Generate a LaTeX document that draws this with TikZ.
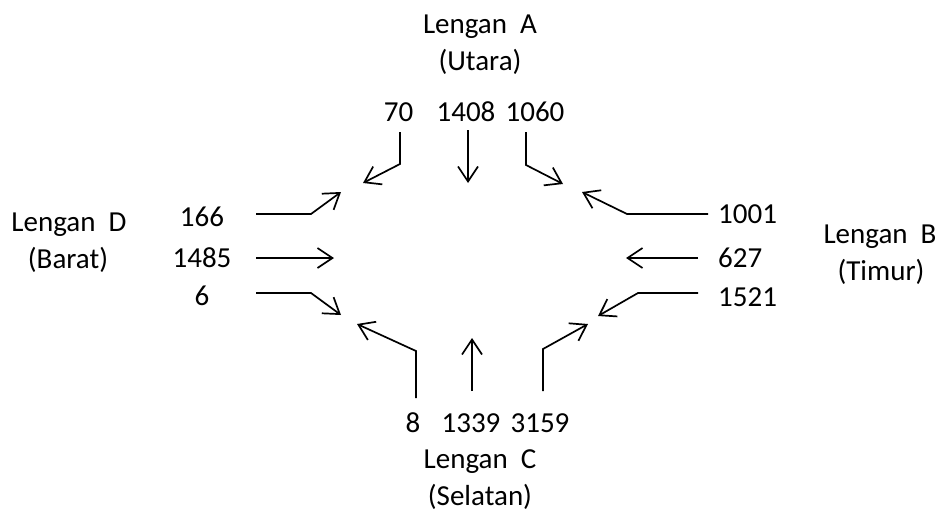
\documentclass[tikz,border=0pt]{standalone}
\usepackage{fontspec}
\setmainfont{Carlito}
\usetikzlibrary{arrows.meta}
\begin{document}
\begin{tikzpicture}[x=1pt,y=-1pt,
  flow/.style={line width=1.7pt,line join=miter,
    -{Straight Barb[length=15pt,width=20pt]}},
  num/.style={font=\fontsize{29}{35}\selectfont,inner sep=0pt},
  arm/.style={font=\fontsize{29}{35}\selectfont,inner sep=0pt,anchor=base}]
\useasboundingbox (0,0) rectangle (944,517);

% approach names
\node[arm] (armA)  at (480,33)  {Lengan\ \ A};
\node[arm] (dirA)  at (480,70)  {(Utara)};
\node[arm] (armD)  at (69,231)  {Lengan\ \ D};
\node[arm] (dirD)  at (68,268)  {(Barat)};
\node[arm] (armB)  at (880,243) {Lengan\ \ B};
\node[arm] (dirB)  at (881,280) {(Timur)};
\node[arm] (armC)  at (480,468) {Lengan\ \ C};
\node[arm] (dirC)  at (480,505) {(Selatan)};

% turning volumes, north approach
\node[num] (nA1) at (398.5,112) {70};
\node[num] (nA2) at (466,112)   {1408};
\node[num] (nA3) at (535,112)   {1060};
% south approach
\node[num] (nC1) at (413,423) {8};
\node[num] (nC2) at (471,423) {1339};
\node[num] (nC3) at (540,423) {3159};
% west approach
\node[num] (nD1) at (202,217) {166};
\node[num] (nD2) at (202,258) {1485};
\node[num] (nD3) at (202,296) {6};
% east approach
\node[num,anchor=west] (nB1) at (718,214) {1001};
\node[num,anchor=west] (nB2) at (718,258) {627};
\node[num,anchor=west] (nB3) at (718,297) {1521};

% movement arrows: start, bend, tip
\coordinate (a1s) at (400,132); \coordinate (a1b) at (400,164); \coordinate (a1t) at (363,183);
\coordinate (a2s) at (468,130); \coordinate (a2t) at (468,183);
\coordinate (a3s) at (526,132); \coordinate (a3b) at (526,165); \coordinate (a3t) at (563,184);

\coordinate (d1s) at (256,214); \coordinate (d1b) at (311,214); \coordinate (d1t) at (341,192);
\coordinate (d2s) at (256,258); \coordinate (d2t) at (334,258);
\coordinate (d3s) at (256,293); \coordinate (d3b) at (311,293); \coordinate (d3t) at (341,315);

\coordinate (b1s) at (708,214); \coordinate (b1b) at (627,214); \coordinate (b1t) at (582,192);
\coordinate (b2s) at (698,258); \coordinate (b2t) at (626,258);
\coordinate (b3s) at (698,293); \coordinate (b3b) at (638,293); \coordinate (b3t) at (598,316);

\coordinate (c1s) at (416,398); \coordinate (c1b) at (416,351); \coordinate (c1t) at (357,324);
\coordinate (c2s) at (472,391); \coordinate (c2t) at (472,338);
\coordinate (c3s) at (543,391); \coordinate (c3b) at (543,349); \coordinate (c3t) at (588,324);

\draw[flow] (a1s) -- (a1b) -- (a1t);
\draw[flow] (a2s) -- (a2t);
\draw[flow] (a3s) -- (a3b) -- (a3t);
\draw[flow] (d1s) -- (d1b) -- (d1t);
\draw[flow] (d2s) -- (d2t);
\draw[flow] (d3s) -- (d3b) -- (d3t);
\draw[flow] (b1s) -- (b1b) -- (b1t);
\draw[flow] (b2s) -- (b2t);
\draw[flow] (b3s) -- (b3b) -- (b3t);
\draw[flow] (c1s) -- (c1b) -- (c1t);
\draw[flow] (c2s) -- (c2t);
\draw[flow] (c3s) -- (c3b) -- (c3t);
\end{tikzpicture}
\end{document}
